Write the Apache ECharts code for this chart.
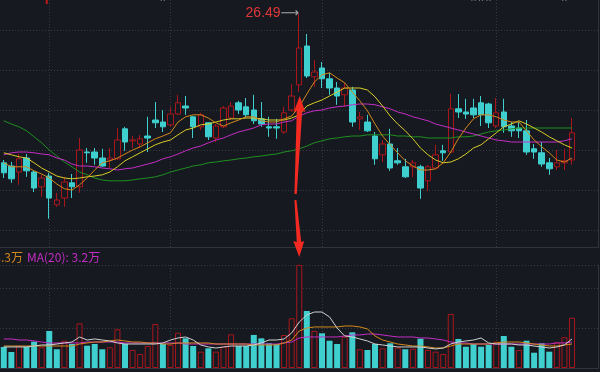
<!DOCTYPE html>
<html><head><meta charset="utf-8">
<script src="https://cdn.jsdelivr.net/npm/echarts@6/dist/echarts.min.js"></script>
<style>html,body{margin:0;padding:0;background:#161a20;}#c{width:600px;height:372px;}</style>
</head><body><div id="c"></div>
<script>
// ---- data (price in yuan, volume in 万) ----
const candles = [ // [open, close, low, high]
[22.76,22.51,22.38,22.83],[22.68,22.36,22.26,22.78],[22.53,22.86,22.21,22.98],[22.88,22.56,22.41,22.98],
[22.53,22.13,22.03,22.58],[22.16,22.38,21.91,22.46],[22.43,21.88,21.36,22.51],[21.71,21.83,21.66,22.01],
[21.88,22.28,21.66,22.41],[22.26,22.16,21.88,22.48],[22.16,23.08,22.01,23.38],[23.03,23.01,22.76,23.13],
[23.03,22.88,22.71,23.13],[22.88,22.68,22.66,23.11],[22.83,22.88,22.63,23.13],[22.86,23.33,22.83,23.63],
[23.61,23.28,23.06,23.66],[23.31,23.33,23.13,23.43],[23.23,23.36,23.13,23.46],[23.43,23.38,23.03,23.91],
[23.83,23.76,23.63,24.28],[23.78,23.66,23.53,24.08],[23.71,23.98,23.66,24.16],[23.98,24.26,23.96,24.46],
[24.18,24.13,23.96,24.43],[23.91,23.66,23.38,23.93],[23.66,23.96,23.58,24.01],[23.76,23.41,23.33,23.78],
[23.38,23.68,23.28,23.73],[23.66,24.13,23.63,24.18],[23.88,24.18,23.83,24.28],[24.26,24.08,23.98,24.31],
[24.16,23.96,23.88,24.38],[24.08,23.81,23.73,24.46],[23.86,23.73,23.66,24.28],[23.66,23.63,23.41,23.91],
[23.66,23.63,23.36,23.86],[23.53,24.01,23.48,24.16],[24.08,24.43,24.03,24.73],[24.71,25.63,24.53,26.49],
[25.68,24.93,24.88,25.98],[24.91,25.03,24.66,25.33],[25.13,24.86,24.63,25.28],[24.86,24.63,24.46,25.01],
[24.63,24.43,24.21,24.78],[24.46,24.63,24.16,24.76],[24.58,23.78,23.66,24.66],[23.86,23.91,23.58,24.03],
[23.78,23.56,23.53,23.96],[23.43,22.86,22.71,23.53],[22.96,23.23,22.78,23.33],[23.23,22.63,22.56,23.61],
[22.81,22.76,22.71,23.13],[22.66,22.41,22.38,22.86],[22.66,22.76,22.41,22.83],[22.66,22.13,21.86,22.71],
[22.31,22.66,22.06,22.71],[22.63,22.96,22.61,23.21],[23.06,23.01,22.81,23.21],[23.03,24.11,23.01,24.48],
[24.11,24.03,23.88,24.48],[24.03,23.98,23.86,24.36],[24.13,23.96,23.88,24.36],[24.26,23.96,23.68,24.43],
[24.23,23.76,23.63,24.26],[23.68,24.01,23.63,24.38],[24.03,23.66,23.51,24.36],[23.68,23.56,23.41,23.78],
[23.63,23.56,23.38,23.78],[23.56,23.03,22.96,23.83],[23.11,23.03,22.86,23.23],[23.01,22.73,22.66,23.28],
[22.76,22.61,22.46,22.88],[22.66,22.76,22.58,23.08],[22.76,22.81,22.58,23.11],[22.83,23.51,22.71,23.88]
];
const ma5 = [22.76,22.66,22.66,22.66,22.56,22.48,22.38,22.23,22.11,22.08,22.21,22.38,22.58,22.76,22.81,22.88,22.98,23.08,23.16,23.26,
23.36,23.43,23.51,23.78,23.91,23.96,23.96,23.88,23.76,23.68,23.76,23.83,23.91,23.91,23.81,23.78,23.78,23.86,23.93,24.16,
24.48,24.78,24.96,25.01,24.88,24.76,24.53,24.31,24.06,23.73,23.43,23.21,23.01,22.81,22.68,22.58,22.58,22.61,22.76,23.03,
23.36,23.63,23.86,23.96,23.96,23.91,23.83,23.78,23.78,23.56,23.33,23.16,23.01,22.83,22.78,22.88];
const ma10 = [23.01,22.96,22.91,22.88,22.76,22.63,22.53,22.43,22.38,22.36,22.38,22.41,22.43,22.46,22.53,22.66,22.81,22.91,23.01,23.11,
23.21,23.28,23.33,23.46,23.58,23.63,23.71,23.73,23.78,23.83,23.86,23.86,23.88,23.88,23.86,23.83,23.83,23.83,23.88,23.96,
24.18,24.26,24.33,24.43,24.53,24.63,24.63,24.63,24.58,24.41,24.18,23.93,23.73,23.56,23.36,23.13,22.96,22.83,22.76,22.78,
22.86,22.98,23.13,23.21,23.36,23.51,23.66,23.73,23.81,23.73,23.63,23.53,23.41,23.31,23.21,23.13];
const ma20 = [22.96,23.01,23.03,23.03,23.01,22.98,22.96,22.88,22.83,22.73,22.68,22.68,22.66,22.63,22.61,22.58,22.61,22.63,22.68,22.73,
22.78,22.86,22.91,22.98,23.06,23.13,23.18,23.26,23.33,23.38,23.46,23.53,23.58,23.63,23.71,23.73,23.73,23.78,23.81,23.93,
24.01,24.06,24.08,24.13,24.16,24.18,24.21,24.23,24.23,24.21,24.16,24.11,24.03,23.98,23.91,23.86,23.81,23.73,23.68,23.63,
23.58,23.53,23.48,23.43,23.38,23.33,23.31,23.28,23.28,23.28,23.28,23.28,23.28,23.28,23.31,23.36];
const ma60 = [23.81,23.73,23.66,23.56,23.41,23.26,23.08,22.93,22.78,22.66,22.53,22.46,22.38,22.33,22.31,22.31,22.31,22.33,22.36,22.38,
22.41,22.46,22.53,22.58,22.63,22.68,22.71,22.76,22.78,22.81,22.83,22.86,22.88,22.91,22.93,22.96,22.98,23.03,23.06,23.11,
23.18,23.26,23.31,23.36,23.38,23.41,23.43,23.43,23.46,23.46,23.46,23.46,23.43,23.43,23.41,23.41,23.38,23.38,23.38,23.38,
23.41,23.41,23.43,23.48,23.53,23.56,23.58,23.61,23.63,23.63,23.63,23.63,23.63,23.63,23.63,23.63];
const volumes = [2.63,2.0,2.75,2.66,3.29,2.59,4.63,2.34,3.41,3.0,5.59,2.79,3.0,2.34,2.59,4.84,3.0,2.25,1.75,2.75,
5.5,3.0,2.88,4.41,3.71,2.75,2.04,2.46,2.04,2.66,4.21,2.75,2.75,4.13,3.71,3.09,3.0,4.13,6.21,12.88,
7.13,4.63,4.34,3.41,3.0,3.91,4.46,2.34,2.25,3.0,2.46,3.09,2.54,2.34,2.41,3.66,2.25,2.04,1.75,6.75,
3.63,2.66,3.0,2.66,2.88,3.29,4.0,2.66,2.25,3.41,1.91,3.09,2.04,3.21,3.84,6.29];
const volUp = [0,0,1,0,0,1,0,0,1,0,1,0,0,0,1,1,0,1,1,1,1,0,1,1,0,0,1,0,1,1,1,0,0,0,0,0,0,1,1,1,
0,1,0,0,0,1,0,1,0,0,1,0,1,0,1,0,1,1,1,1,0,0,0,0,0,1,0,0,1,0,0,0,0,1,1,1];
const volMa5 = [2.63,2.63,2.63,2.63,2.75,2.88,2.88,3.0,3.13,3.25,3.88,3.5,3.63,3.5,3.38,3.13,3.0,3.0,3.0,3.0,
3.0,3.13,3.5,3.75,3.88,3.5,2.88,2.63,2.5,2.63,2.75,2.75,2.75,2.88,3.13,3.5,3.5,3.63,4.38,5.75,
6.63,7.0,7.0,6.38,5.0,4.0,3.88,3.63,3.38,3.0,2.88,2.75,2.63,2.63,2.63,2.63,2.5,2.38,2.5,3.0,
3.25,3.38,3.5,3.75,3.13,3.0,3.0,3.0,2.88,2.88,2.75,2.63,2.5,2.63,2.88,3.63];
const volMa10 = [2.75,2.75,2.75,2.75,2.75,2.75,2.75,2.75,2.75,2.75,3.0,3.13,3.25,3.25,3.38,3.5,3.38,3.25,3.25,3.13,
3.13,3.0,3.0,3.13,3.13,3.13,3.13,3.13,3.0,3.0,3.0,3.0,3.0,2.88,2.88,2.88,2.88,3.13,3.5,4.63,
5.0,5.13,5.13,5.13,5.13,5.25,5.25,5.13,4.88,4.0,3.5,3.25,3.0,2.88,2.75,2.75,2.63,2.5,2.5,2.75,
3.0,3.0,3.0,3.0,3.0,3.13,3.25,3.25,3.25,3.13,3.0,2.88,2.75,2.75,2.88,3.0];
const volMa20 = [3.63,3.63,3.5,3.5,3.38,3.25,3.13,3.13,3.13,3.13,3.13,3.25,3.25,3.25,3.25,3.25,3.13,3.13,3.13,3.13,
3.13,3.13,3.13,3.13,3.0,3.0,3.0,3.0,3.0,3.0,3.0,3.0,3.0,3.0,3.0,3.0,3.0,3.13,3.25,3.75,
3.88,3.88,3.88,3.88,3.88,4.0,4.13,4.13,4.25,4.25,4.13,4.0,3.88,3.88,3.88,3.75,3.75,3.63,3.5,3.25,
3.13,3.13,3.0,3.0,3.0,3.0,3.0,3.0,3.0,3.0,3.0,3.0,3.0,3.13,3.13,3.25];
const priceGridLines = [26.08, 25.08, 24.08, 23.08, 22.08, 21.08];
const monthStarts = [6, 22, 42, 65];
const starIdx = [21, 62, 63, 64, 74];
const flagIdx = [6];
const legendTexts = ['MA(10): 3.3万', 'MA(20): 3.2万'];
const spikeIdx = 39;
const upArrow = {from: 21.98, to: 24.43};
const downArrow = {fromPrice: 21.83, toVolume: 13.88};
const slotCount = 79;
const categories = Array.from({length: slotCount}, (_, i) => 'D' + (i + 1));

// ---- style ----
const BG = '#161a20', UP = '#a8161c', DOWN = '#3fcfcf';
const dotted = {color: '#363b43', type: [1, 2], width: 1};
const solid = {color: '#30353c', width: 1};

const chart = echarts.init(document.getElementById('c'));
const ml = (data) => ({silent: true, symbol: ['none','none'], label: {show: false}, emphasis: {disabled: true}, z: 0, data});

chart.setOption({
  backgroundColor: BG,
  animation: false,
  grid: [
    {left: -5.5, top: 0, width: 604, height: 247},
    {left: -5.5, top: 265, width: 604, height: 103}
  ],
  xAxis: [
    {type: 'category', gridIndex: 0, data: categories, axisLine: {show: true, lineStyle: solid}, axisTick: {show: false}, axisLabel: {show: false}, splitLine: {show: false}},
    {type: 'category', gridIndex: 1, data: categories, axisLine: {show: true, lineStyle: solid}, axisTick: {show: false}, axisLabel: {show: false}, splitLine: {show: false}}
  ],
  yAxis: [
    {type: 'value', gridIndex: 0, min: 20.655, max: 26.83, position: 'right', axisLine: {show: true, lineStyle: solid}, axisTick: {show: false}, axisLabel: {show: false}, splitLine: {show: false}},
    {type: 'value', gridIndex: 1, min: 0, max: 12.875, interval: 5, position: 'right', axisLine: {show: true, lineStyle: solid}, axisTick: {show: false}, axisLabel: {show: false}, splitLine: {show: true, lineStyle: dotted}}
  ],
  series: [
    {type: 'candlestick', xAxisIndex: 0, yAxisIndex: 0, data: candles, barWidth: 6,
     itemStyle: {color: BG, color0: DOWN, borderColor: UP, borderColor0: DOWN, borderWidth: 1},
     markLine: ml([...monthStarts.map(i => ({xAxis: categories[i], lineStyle: dotted})),
                   ...priceGridLines.map(v => ({yAxis: v, lineStyle: dotted}))]),
     markPoint: {silent: true, symbol: 'circle', symbolSize: 0,
       data: [{coord: [categories[spikeIdx], candles[spikeIdx][3]], value: candles[spikeIdx][3]}],
       label: {show: true, position: 'left', distance: 0,
         formatter: p => '{a|' + p.value.toFixed(2) + '}{b|⟶}',
         rich: {a: {color: '#e0363a', fontSize: 14, fontFamily: 'Liberation Sans'}, b: {color: '#a8a8a8', fontSize: 13, fontFamily: 'DejaVu Sans'}}}}
    },
    {type: 'line', xAxisIndex: 0, yAxisIndex: 0, data: ma60, symbol: 'none', lineStyle: {color: '#1f8f1f', width: 1}},
    {type: 'line', xAxisIndex: 0, yAxisIndex: 0, data: ma20, symbol: 'none', lineStyle: {color: '#c42cc4', width: 1}},
    {type: 'line', xAxisIndex: 0, yAxisIndex: 0, data: ma10, symbol: 'none', lineStyle: {color: '#d8cc28', width: 1}},
    {type: 'line', xAxisIndex: 0, yAxisIndex: 0, data: ma5, symbol: 'none', lineStyle: {color: '#d2881c', width: 1}},
    {type: 'bar', xAxisIndex: 1, yAxisIndex: 1, barWidth: 6,
     data: volumes.map((v, i) => ({value: v, itemStyle: volUp[i] ? {color: BG, borderColor: UP, borderWidth: 1} : {color: DOWN}})),
     markLine: ml([...monthStarts.map(i => ({xAxis: categories[i], lineStyle: dotted})), {yAxis: 12.875, lineStyle: solid}])
    },
    {type: 'line', xAxisIndex: 1, yAxisIndex: 1, data: volMa20, symbol: 'none', lineStyle: {color: '#c42cc4', width: 1}},
    {type: 'line', xAxisIndex: 1, yAxisIndex: 1, data: volMa10, symbol: 'none', lineStyle: {color: '#d2881c', width: 1}},
    {type: 'line', xAxisIndex: 1, yAxisIndex: 1, data: volMa5, symbol: 'none', lineStyle: {color: '#d0d0d0', width: 1}}
  ]
});

// ---- annotations positioned from data ----
const px = (idx, v, g) => chart.convertToPixel({xAxisIndex: g, yAxisIndex: g}, [categories[idx], v]);
const [xc, yUpTip] = px(spikeIdx, upArrow.to, 0);
const yUpBase = px(spikeIdx, upArrow.from, 0)[1];
const yDnTop = px(spikeIdx, downArrow.fromPrice, 0)[1];
const yDnTip = px(spikeIdx, downArrow.toVolume, 1)[1];
const RED = '#f22a22';
const graphics = [
  {type: 'polygon', z: 100, shape: {points: [
    [xc + 0.5, yUpTip], [xc + 6, yUpTip + 16], [xc + 3, yUpTip + 15], [xc - 2.5, yUpBase],
    [xc - 4.8, yUpBase], [xc - 2.5, yUpTip + 15], [xc - 5.5, yUpTip + 16]]}, style: {fill: RED}},
  {type: 'polygon', z: 100, shape: {points: [
    [xc - 4.8, yDnTop], [xc - 2.8, yDnTop], [xc + 2, yDnTip - 15], [xc + 5, yDnTip - 16],
    [xc, yDnTip], [xc - 6, yDnTip - 16], [xc - 2.5, yDnTip - 15]]}, style: {fill: RED}},
  {type: 'text', z: 100, x: 23, y: 257, style: {text: legendTexts[0], fill: '#d2881c', font: '12px "Noto Sans CJK SC"', align: 'right', verticalAlign: 'middle', textAlign: 'right', textVerticalAlign: 'middle'}},
  {type: 'text', z: 100, x: 27, y: 257, style: {text: legendTexts[1], fill: '#c42cc4', font: '12px "Noto Sans CJK SC"', align: 'left', verticalAlign: 'middle', textAlign: 'left', textVerticalAlign: 'middle'}}
];
starIdx.forEach(i => {
  const x = px(i, 26, 0)[0];
  graphics.push({type: 'text', z: 100, x: x, y: -1, style: {text: '★', fill: '#b8bcc2', font: '9px "DejaVu Sans"', align: 'center', verticalAlign: 'middle', textAlign: 'center', textVerticalAlign: 'middle'}});
});
flagIdx.forEach(i => {
  const x = px(i, 26, 0)[0];
  graphics.push({type: 'rect', z: 100, shape: {x: x - 3.5, y: 0, width: 2, height: 4}, style: {fill: '#c01818'}});
});
chart.setOption({graphic: graphics});
</script>
</body></html>
